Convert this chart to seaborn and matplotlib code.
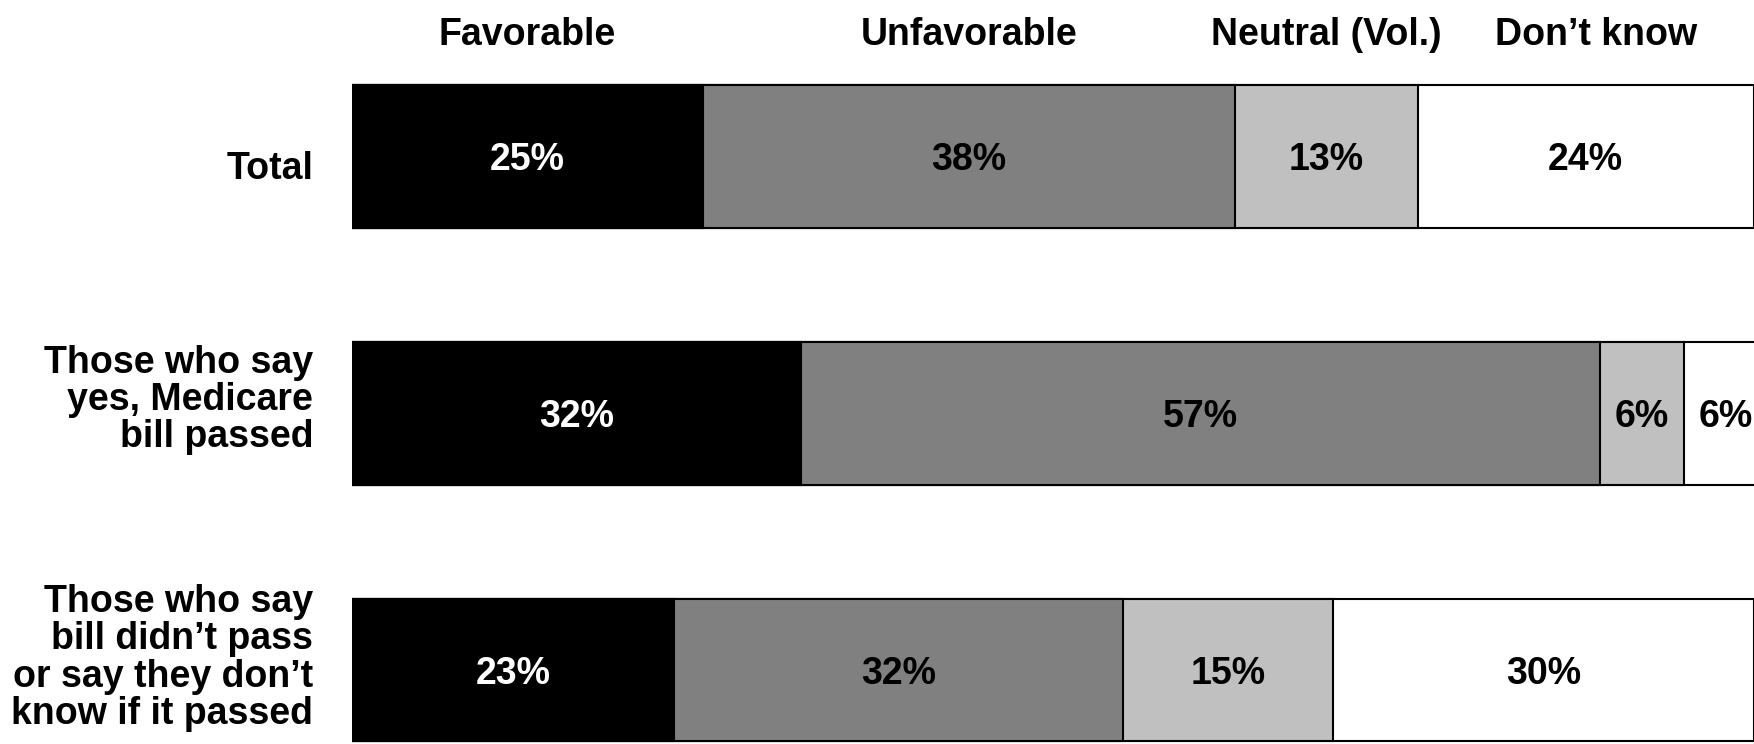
import pandas as pd
import numpy as np
import matplotlib.pyplot as plt
import matplotlib.transforms as mtransforms
import seaborn as sns

sns.set_style('white')
plt.rcParams['font.family'] = ['Liberation Sans', 'DejaVu Sans']

# Data
groups = ['Total',
          'Those who say\nyes, Medicare\nbill passed',
          'Those who say\nbill didn\u2019t pass\nor say they don\u2019t\nknow if it passed']
categories = ['Favorable', 'Unfavorable', 'Neutral (Vol.)', 'Don\u2019t know']
favorable = [25, 32, 23]
unfavorable = [38, 57, 32]
neutral = [13, 6, 15]
dont_know = [24, 6, 30]

colors = ['#000000', '#808080', '#c0c0c0', '#ffffff']
text_colors = ['white', 'black', 'black', 'black']
FS = 27

df = pd.DataFrame({'group': groups,
                   categories[0]: favorable,
                   categories[1]: unfavorable,
                   categories[2]: neutral,
                   categories[3]: dont_know})
vals = df[categories].to_numpy()
cum = vals.cumsum(axis=1)
lefts = cum - vals

fig = plt.figure(figsize=(17.54, 7.44), dpi=100)
ax = fig.add_axes([352 / 1754, 0, 1 - 352 / 1754, 1])

# stacked bars: draw cumulative totals from the outermost in
for i in range(len(categories) - 1, -1, -1):
    sns.barplot(x=cum[:, i], y=df['group'], orient='h', color=colors[i],
                edgecolor='black', linewidth=1.5, width=0.556,
                saturation=1, ax=ax)

# value labels
for r in range(len(groups)):
    for i in range(len(categories)):
        ax.text(lefts[r, i] + vals[r, i] / 2, r + 0.015, f'{vals[r, i]}%',
                ha='center', va='center', fontsize=FS, fontweight='bold',
                color=text_colors[i])

# column headers centered over the Total row segments
for i, cat in enumerate(categories):
    xpos = lefts[0, i] + vals[0, i] / 2
    if i == 3:
        xpos += 0.7
    ax.text(xpos, -0.472, cat, ha='center', va='center',
            fontsize=FS, fontweight='bold', color='black')

ax.set_xlim(0, 100)
ax.set_ylim(2.288, -0.609)
ax.set_xlabel('')
ax.set_ylabel('')
ax.set_xticks([])
ax.tick_params(axis='y', length=0, pad=28)

# labels in the original sit slightly off the bar centres
label_shift = [-6.4, 12.9, 12.0]
for lbl, dy in zip(ax.get_yticklabels(), label_shift):
    lbl.set_fontsize(FS)
    lbl.set_fontweight('bold')
    lbl.set_color('black')
    lbl.set_linespacing(1.05)
    lbl.set_ha('right')
    off = mtransforms.ScaledTranslation(0, dy / 72, fig.dpi_scale_trans)
    lbl.set_transform(lbl.get_transform() + off)
sns.despine(ax=ax, left=True, bottom=True)

fig.savefig('out.png', dpi=100)
